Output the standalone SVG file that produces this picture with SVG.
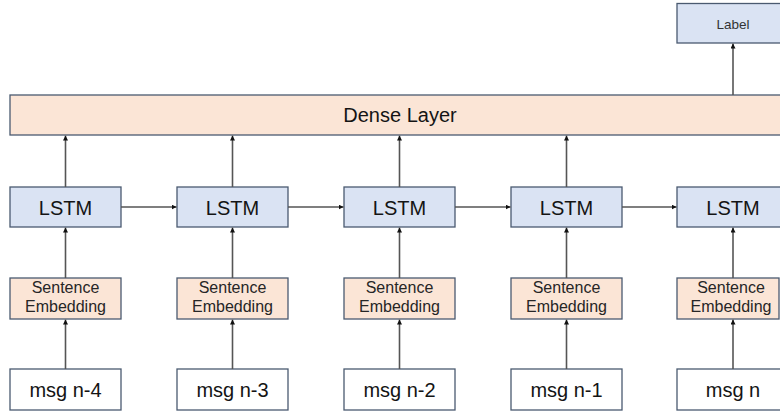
<svg xmlns="http://www.w3.org/2000/svg" width="780" height="416" viewBox="0 0 780 416">
<defs>
<marker id="ah" viewBox="0 0 10 10" refX="10" refY="5" markerWidth="5" markerHeight="5" orient="auto" markerUnits="userSpaceOnUse">
<path d="M0,0 L10,5 L0,10 z" fill="#111"/>
</marker>
<style>
.blue{fill:#dae3f3;stroke:#4a5a70;stroke-width:1.3}
.peach{fill:#fbe5d6;stroke:#4a5a70;stroke-width:1.3}
.white{fill:#ffffff;stroke:#4a5a70;stroke-width:1.3}
text{font-family:"Liberation Sans",Arial,sans-serif;fill:#141414;text-anchor:middle}
.big{font-size:20px}
.emb{font-size:16px;fill:#262626}
.lbl{font-size:13.5px;fill:#333}
.c line{stroke:#555;stroke-width:1.6;marker-end:url(#ah)}
</style>
</defs>
<rect width="780" height="416" fill="#fff"/>

<g id="label"><rect class="blue" x="677" y="3.5" width="112" height="39.5"/><text class="lbl" x="733" y="28.5">Label</text></g>
<g id="dense"><rect class="peach" x="10" y="95" width="780" height="40"/><text class="big" x="400" y="122">Dense Layer</text></g>

<g id="lstm1"><rect class="blue" x="10" y="187" width="111" height="40"/><text class="big" x="65.5" y="214.5">LSTM</text></g>
<g id="lstm2"><rect class="blue" x="177" y="187" width="111" height="40"/><text class="big" x="232.5" y="214.5">LSTM</text></g>
<g id="lstm3"><rect class="blue" x="344" y="187" width="111" height="40"/><text class="big" x="399.5" y="214.5">LSTM</text></g>
<g id="lstm4"><rect class="blue" x="511" y="187" width="111" height="40"/><text class="big" x="566.5" y="214.5">LSTM</text></g>
<g id="lstm5"><rect class="blue" x="677" y="187" width="112" height="40"/><text class="big" x="733" y="214.5">LSTM</text></g>

<g id="emb1"><rect class="peach" x="10" y="278" width="111" height="41"/><text class="emb" x="65.5" y="293">Sentence</text><text class="emb" x="65.5" y="312">Embedding</text></g>
<g id="emb2"><rect class="peach" x="177" y="278" width="111" height="41"/><text class="emb" x="232.5" y="293">Sentence</text><text class="emb" x="232.5" y="312">Embedding</text></g>
<g id="emb3"><rect class="peach" x="344" y="278" width="111" height="41"/><text class="emb" x="399.5" y="293">Sentence</text><text class="emb" x="399.5" y="312">Embedding</text></g>
<g id="emb4"><rect class="peach" x="511" y="278" width="111" height="41"/><text class="emb" x="566.5" y="293">Sentence</text><text class="emb" x="566.5" y="312">Embedding</text></g>
<g id="emb5"><rect class="peach" x="677" y="278" width="102" height="41"/><text class="emb" x="731" y="293">Sentence</text><text class="emb" x="731" y="312">Embedding</text></g>

<g id="msg1"><rect class="white" x="10" y="369" width="111" height="41"/><text class="big" x="65.5" y="397">msg n-4</text></g>
<g id="msg2"><rect class="white" x="177" y="369" width="111" height="41"/><text class="big" x="232.5" y="397">msg n-3</text></g>
<g id="msg3"><rect class="white" x="344" y="369" width="111" height="41"/><text class="big" x="399.5" y="397">msg n-2</text></g>
<g id="msg4"><rect class="white" x="511" y="369" width="111" height="41"/><text class="big" x="566.5" y="397">msg n-1</text></g>
<g id="msg5"><rect class="white" x="677" y="369" width="112" height="41"/><text class="big" x="733" y="397">msg n</text></g>

<g id="connectors" class="c">
<line x1="733" y1="95" x2="733" y2="43.5"/>
<line x1="65.5" y1="187" x2="65.5" y2="135.5"/>
<line x1="232.5" y1="187" x2="232.5" y2="135.5"/>
<line x1="399.5" y1="187" x2="399.5" y2="135.5"/>
<line x1="566.5" y1="187" x2="566.5" y2="135.5"/>
<line x1="121" y1="207" x2="176.5" y2="207"/>
<line x1="288" y1="207" x2="343.5" y2="207"/>
<line x1="455" y1="207" x2="510.5" y2="207"/>
<line x1="622" y1="207" x2="676.5" y2="207"/>
<line x1="65.5" y1="278" x2="65.5" y2="227.5"/>
<line x1="232.5" y1="278" x2="232.5" y2="227.5"/>
<line x1="399.5" y1="278" x2="399.5" y2="227.5"/>
<line x1="566.5" y1="278" x2="566.5" y2="227.5"/>
<line x1="733" y1="278" x2="733" y2="227.5"/>
<line x1="65.5" y1="369" x2="65.5" y2="319.5"/>
<line x1="232.5" y1="369" x2="232.5" y2="319.5"/>
<line x1="399.5" y1="369" x2="399.5" y2="319.5"/>
<line x1="566.5" y1="369" x2="566.5" y2="319.5"/>
<line x1="733" y1="369" x2="733" y2="319.5"/>
</g>
</svg>
